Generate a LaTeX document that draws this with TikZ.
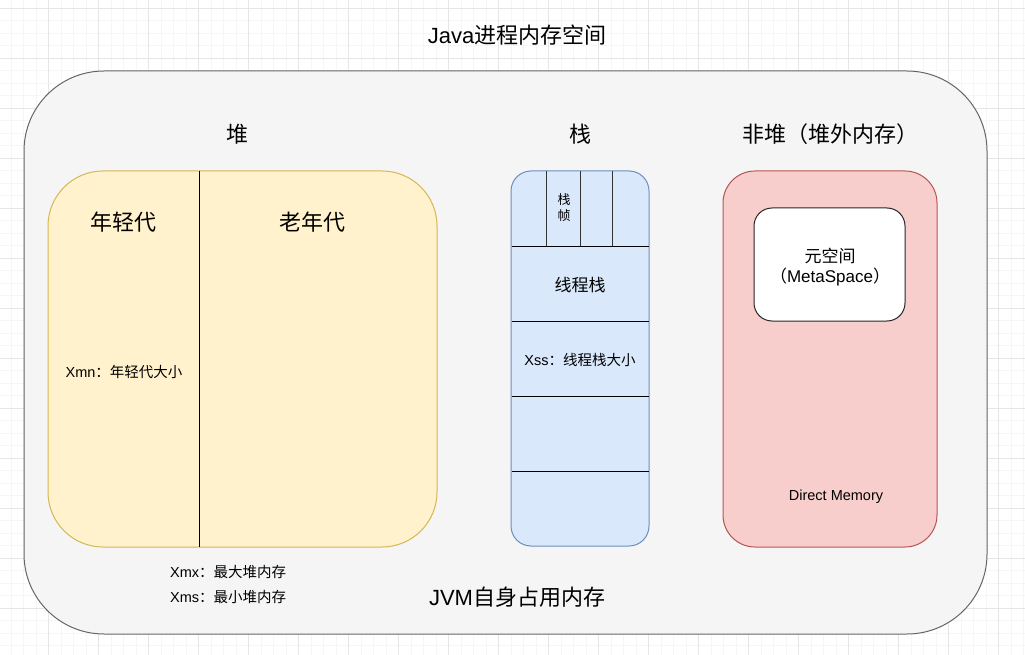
\documentclass[tikz,border=0pt]{standalone}
\usepackage{fontspec}
\setmainfont{Liberation Sans}
\newfontfamily\cjk{Noto Sans CJK SC}

\definecolor{gridminor}{HTML}{F6F6F6}
\definecolor{gridmajor}{HTML}{E6E6E6}
\definecolor{outerfill}{HTML}{F5F5F5}
\definecolor{outerline}{HTML}{666666}
\definecolor{heapfill}{HTML}{FFF2CC}
\definecolor{heapline}{HTML}{D6B656}
\definecolor{stackfill}{HTML}{DAE8FC}
\definecolor{stackline}{HTML}{6C8EBF}
\definecolor{nhfill}{HTML}{F8CECC}
\definecolor{nhline}{HTML}{B85450}

\newcommand\fsz[2]{\fontsize{#1}{#2}\selectfont}

\begin{document}
\begin{tikzpicture}[x=1pt,y=-1pt,
  txt/.style={inner sep=0pt, text=black, align=center},
  bigtxt/.style={txt, font=\fsz{22}{26}},
  midtxt/.style={txt, font=\fsz{17}{20}},
  smalltxt/.style={txt, font=\fsz{14.5}{17}},
  divider/.style={draw=black, line width=1pt}]

\useasboundingbox (0,0) rectangle (1025,655);
\fill[white] (0,0) rectangle (1025,655);

% background grid
\foreach \x in {11,23.5,...,1025} \draw[gridminor, line width=0.8pt] (\x,0) -- (\x,655);
\foreach \y in {8.3,20.8,...,655} \draw[gridminor, line width=0.8pt] (0,\y) -- (1025,\y);
\foreach \x in {-1.5,48.5,...,1025} \draw[gridmajor, line width=0.9pt] (\x,0) -- (\x,655);
\foreach \y in {8.3,58.3,...,655} \draw[gridmajor, line width=0.9pt] (0,\y) -- (1025,\y);

% process memory frame
\draw[fill=outerfill, draw=outerline, line width=1pt, rounded corners=80pt]
  (24,71) rectangle (987,634);

% heap
\draw[fill=heapfill, draw=heapline, line width=1pt, rounded corners=55pt]
  (48,171) rectangle (437,547);
\draw[divider] (199,171) -- (199,547);

% stack
\draw[fill=stackfill, draw=stackline, line width=1pt, rounded corners=20pt]
  (511,171) rectangle (649,546);
\foreach \y in {246,321,396,471} \draw[divider] (511.5,\y) -- (648.5,\y);
\foreach \x in {546,580,612} \draw[divider, draw=black!80] (\x,171.5) -- (\x,246);

% non-heap
\draw[fill=nhfill, draw=nhline, line width=1pt, rounded corners=32pt]
  (723,171) rectangle (937,547);
\draw[fill=white, draw=black!85, line width=1pt, rounded corners=18pt]
  (754,208) rectangle (905,321);

% labels
\node[bigtxt] (title) at (517,35) {Java{\cjk 进程内存空间}};
\node[bigtxt] (heap) at (237,134) {\cjk 堆};
\node[bigtxt] (stack) at (580,134) {\cjk 栈};
\node[bigtxt] (nonheap) at (830,134) {\cjk 非堆（堆外内存）};

\node[bigtxt] (young) at (123,222) {\cjk 年轻代};
\node[bigtxt] (old) at (312,222) {\cjk 老年代};
\node[smalltxt] (xmn) at (124,372) {Xmn{\cjk ：年轻代大小}};

\node[txt, font=\fsz{13}{16}] (frame) at (564,208) {\cjk 栈\\\cjk 帧};
\node[midtxt] (thread) at (580,285) {\cjk 线程栈};
\node[smalltxt] (xss) at (580,360) {Xss{\cjk ：线程栈大小}};

\node[midtxt] (meta) at (830,267) {{\cjk 元空间}\\{\cjk （}MetaSpace{\cjk ）}};
\node[smalltxt] (direct) at (836,497) {Direct Memory};

\node[smalltxt, anchor=west] (xmx) at (170,572) {Xmx{\cjk ：最大堆内存}};
\node[smalltxt, anchor=west] (xms) at (170,597) {Xms{\cjk ：最小堆内存}};
\node[bigtxt] (jvm) at (517,597) {JVM{\cjk 自身占用内存}};
\end{tikzpicture}
\end{document}
